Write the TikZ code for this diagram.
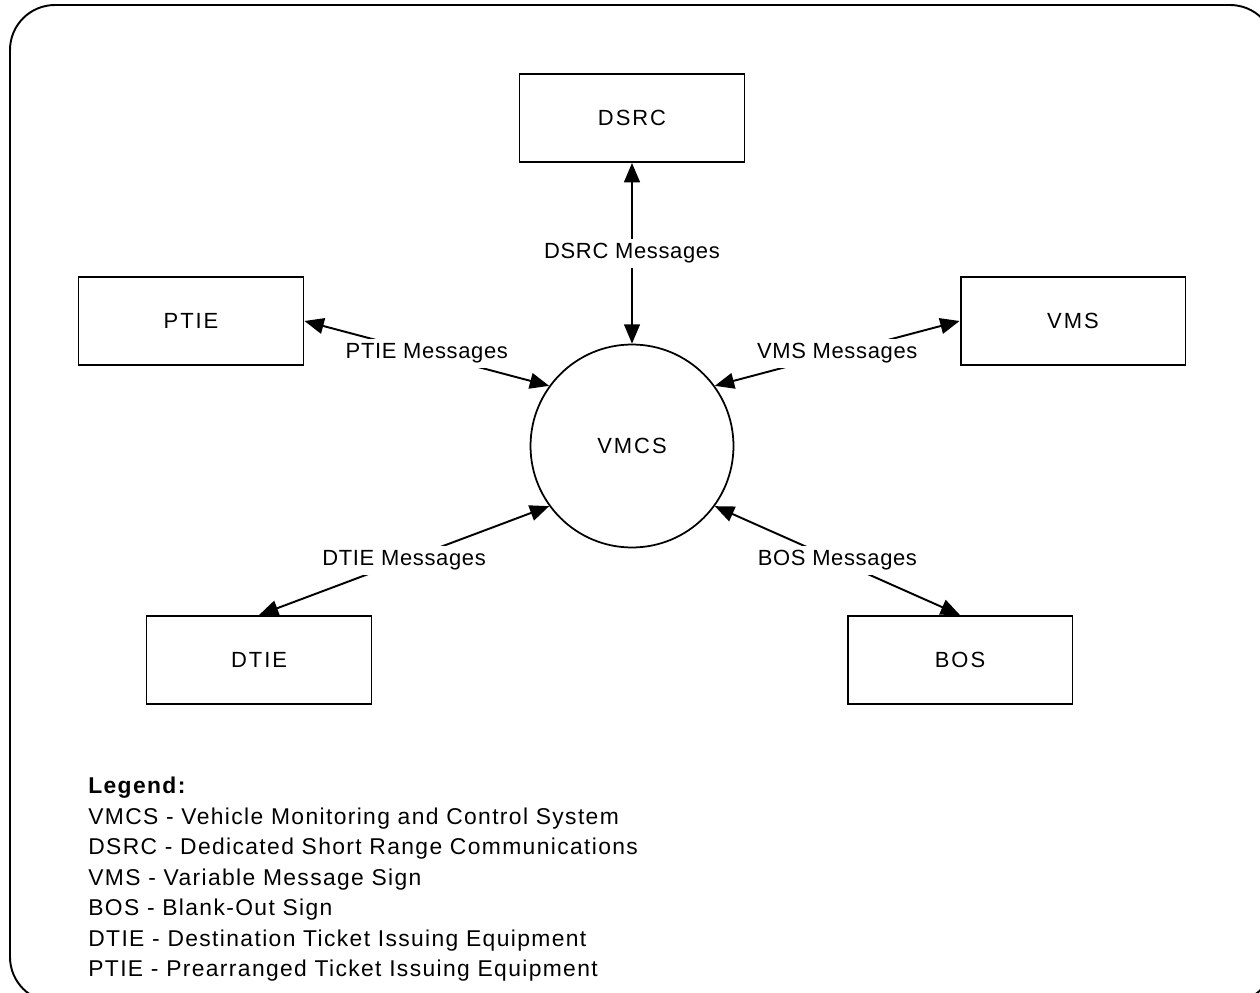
\documentclass[tikz,border=0pt]{standalone}
\usepackage{fontspec}
\setmainfont{Liberation Sans}[LetterSpace=3]
\usetikzlibrary{arrows.meta}

\begin{document}
\begin{tikzpicture}[x=0.02cm,y=-0.02cm,
  box/.style={draw, line width=1.1pt, minimum width=4.5cm, minimum height=1.76cm, font=\fontsize{12.5}{15}\selectfont\addfontfeatures{LetterSpace=9}},
  msg/.style={midway, fill=white, inner sep=2.5pt, font=\fontsize{12.5}{15}\selectfont},
  link/.style={line width=1.1pt, {Triangle[length=11pt,width=9pt]}-{Triangle[length=11pt,width=9pt]}},
  leg/.style={anchor=base west, inner sep=0pt, font=\fontsize{13}{15}\selectfont\addfontfeatures{LetterSpace=6}}]
\useasboundingbox (0,0) rectangle (1260,993);
\draw [line width=1.1pt, rounded corners=0.9cm] (10,5) rectangle (1275,1002); % frame

\node [box] (dsrc) at (632,118) {DSRC};
\node [box] (ptie) at (191,321) {PTIE};
\node [box] (vms) at (1073,321) {VMS};
\node [box] (dtie) at (259,660) {DTIE};
\node [box] (bos) at (960,660) {BOS};
\node [draw, circle, line width=1pt, minimum size=4.06cm, font=\fontsize{12.5}{15}\selectfont\addfontfeatures{LetterSpace=9}] (vmcs) at (632,446) {VMCS};

\draw [link] (dsrc.south) -- (vmcs.north) node[msg] {DSRC Messages};
\draw [link] (ptie.east) -- (vmcs.144) node[msg] {PTIE Messages};
\draw [link] (vmcs.36) -- (vms.west) node[msg] {VMS Messages};
\draw [link] (vmcs.216) -- (dtie.north) node[msg] {DTIE Messages};
\draw [link] (vmcs.324) -- (bos.north) node[msg] {BOS Messages};

% legend
\node [leg, font=\fontsize{13}{15}\selectfont\bfseries\addfontfeatures{LetterSpace=6}] (legend) at (88,793.5) {Legend:};
\foreach \txt [count=\i] in {VMCS - Vehicle Monitoring and Control System,
  DSRC - Dedicated Short Range Communications,
  VMS - Variable Message Sign,
  BOS - Blank-Out Sign,
  DTIE - Destination Ticket Issuing Equipment,
  PTIE - Prearranged Ticket Issuing Equipment}
  \node [leg] (leg\i) at (88,{793.5+30.5*\i}) {\txt};

\end{tikzpicture}
\end{document}
